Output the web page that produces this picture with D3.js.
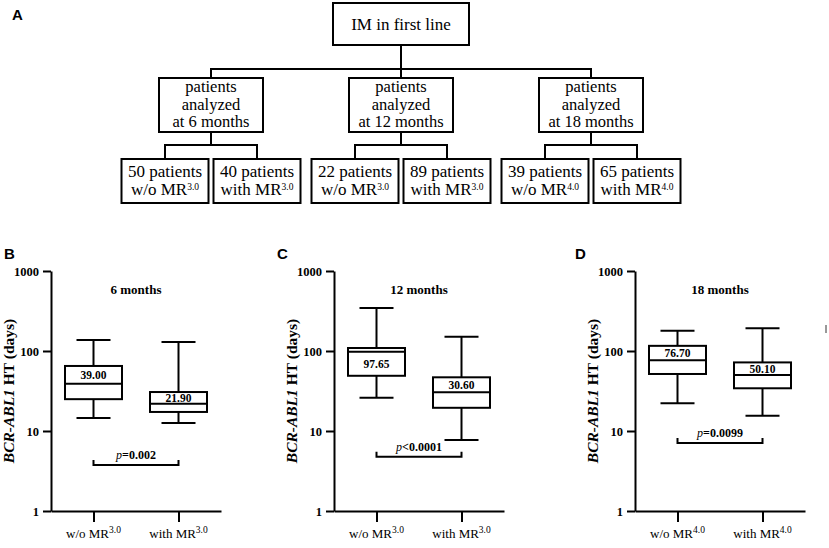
<!DOCTYPE html>
<html><head><meta charset="utf-8">
<script src="https://cdn.jsdelivr.net/npm/d3@7"></script>
<style>body{margin:0;background:#fff}svg{display:block}</style>
</head><body>
<svg id="c" width="829" height="548"></svg>
<script>
// ---------------- data ----------------
const rootLabel = "IM in first line";
const timepoints = ["6 months", "12 months", "18 months"];
const childCounts = [[50, 40], [22, 89], [39, 65]];
const childPrefix = ["w/o MR", "with MR"];
const mrLevels = ["3.0", "3.0", "4.0"];
const panelLetters = ["B", "C", "D"];
const groupKeys = ["wo", "with"];
const whiskerMax = [[137, 130], [345, 151], [179, 192]];
const q3 = [[65, 30.7], [109, 46.9], [116, 72]];
const medians = [[39.00, 21.90], [97.65, 30.60], [76.70, 50.10]];
const q1 = [[25, 17.3], [49, 19.5], [51.6, 34.2]];
const whiskerMin = [[14.5, 12.6], [26, 7.7], [22.2, 15.5]];
const medianLabels = [["39.00", "21.90"], ["97.65", "30.60"], ["76.70", "50.10"]];
const pLabels = [["=", "0.002"], ["<", "0.0001"], ["=", "0.0099"]];
const bracketLevel = [3.76, 4.77, 7.1];
const yTicks = [1, 10, 100, 1000];

// ---------------- layout ----------------
const SERIF = '"Liberation Serif","Times New Roman",serif';
const SANS = '"Liberation Sans",Arial,sans-serif';
const svg = d3.select("#c");
const LW = 2;

// ----- panel A: flowchart -----
svg.append("text").attr("x", 12).attr("y", 20).attr("font-family", SANS)
  .attr("font-weight", "bold").attr("font-size", 15).text("A");

const fc = svg.append("g").attr("fill", "none").attr("stroke", "#000").attr("stroke-width", LW);
const rootBox = {x0: 333, x1: 469, y0: 3, y1: 45};
const rootCx = (rootBox.x0 + rootBox.x1) / 2;
fc.append("rect").attr("x", rootBox.x0).attr("y", rootBox.y0)
  .attr("width", rootBox.x1 - rootBox.x0).attr("height", rootBox.y1 - rootBox.y0);
svg.append("text").attr("x", rootCx).attr("y", 30).attr("text-anchor", "middle")
  .attr("font-family", SERIF).attr("font-size", 17).text(rootLabel);

const lvl2 = d3.scalePoint().domain(timepoints).range([211, 591]);
const busY1 = 69, l2y0 = 78, l2y1 = 132, busY2 = 145, l3y0 = 159, l3y1 = 203;
const l2w = 104, l3w = 87;
fc.append("line").attr("x1", rootCx).attr("x2", rootCx).attr("y1", rootBox.y1).attr("y2", busY1);
fc.append("line").attr("x1", lvl2(timepoints[0]) - 1).attr("x2", lvl2(timepoints[2]) + 1)
  .attr("y1", busY1).attr("y2", busY1);

timepoints.forEach((tp, i) => {
  const cx = lvl2(tp);
  fc.append("line").attr("x1", cx).attr("x2", cx).attr("y1", busY1).attr("y2", l2y0);
  fc.append("rect").attr("x", cx - l2w / 2).attr("y", l2y0).attr("width", l2w).attr("height", l2y1 - l2y0);
  const t = svg.append("text").attr("text-anchor", "middle").attr("font-family", SERIF).attr("font-size", 16.5);
  ["patients", "analyzed", "at " + tp].forEach((ln, k) => {
    t.append("tspan").attr("x", cx).attr("y", 92 + k * 17.5).text(ln);
  });
  fc.append("line").attr("x1", cx).attr("x2", cx).attr("y1", l2y1).attr("y2", busY2);
  const kids = [cx - 46, cx + 46];
  fc.append("line").attr("x1", kids[0] - 1).attr("x2", kids[1] + 1).attr("y1", busY2).attr("y2", busY2);
  kids.forEach((kx, j) => {
    fc.append("line").attr("x1", kx).attr("x2", kx).attr("y1", busY2).attr("y2", l3y0);
    fc.append("rect").attr("x", kx - l3w / 2).attr("y", l3y0).attr("width", l3w).attr("height", l3y1 - l3y0);
    const tt = svg.append("text").attr("text-anchor", "middle").attr("font-family", SERIF).attr("font-size", 17);
    tt.append("tspan").attr("x", kx).attr("y", 177).text(childCounts[i][j] + " patients");
    tt.append("tspan").attr("x", kx).attr("y", 195).text(childPrefix[j]);
    tt.append("tspan").attr("font-size", 9.5).attr("dy", -5.5).text(mrLevels[i]);
  });
});

// ----- panels B, C, D: box plots -----
const panelX = [51, 334, 635];
const axisW = 170, yTop = 271, yBot = 511;
const letterX = [4, 277, 575];

panelLetters.forEach((letter, p) => {
  const x0 = panelX[p];
  const g = svg.append("g");
  const y = d3.scaleLog().domain([1, 1000]).range([yBot, yTop]);
  const x = d3.scalePoint().domain(groupKeys).range([x0, x0 + axisW]).padding(0.5);

  svg.append("text").attr("x", letterX[p]).attr("y", 259).attr("font-family", SANS)
    .attr("font-weight", "bold").attr("font-size", 15).text(letter);

  // y axis
  const ya = g.append("g").attr("transform", `translate(${x0},0)`)
    .call(d3.axisLeft(y).tickValues(yTicks).tickFormat(d3.format("d")).tickSize(8).tickSizeOuter(0).tickPadding(4));
  ya.select(".domain").attr("stroke-width", LW);
  ya.selectAll(".tick line").attr("stroke-width", LW);
  ya.selectAll(".tick text").attr("font-family", SERIF).attr("font-weight", "bold")
    .attr("font-size", 12.5).attr("fill", "#000");

  // x axis
  const xa = g.append("g").attr("transform", `translate(0,${yBot})`)
    .call(d3.axisBottom(x).tickSize(11).tickSizeOuter(0).tickFormat(""));
  xa.select(".domain").attr("stroke-width", LW);
  xa.selectAll(".tick line").attr("stroke-width", LW);

  // y label
  const yl = svg.append("text").attr("transform", `translate(${x0 - 37},${(yTop + yBot) / 2}) rotate(-90)`)
    .attr("text-anchor", "middle").attr("font-family", SERIF).attr("font-weight", "bold").attr("font-size", 15.5);
  yl.append("tspan").attr("font-style", "italic").text("BCR-ABL1");
  yl.append("tspan").text(" HT (days)");

  // title
  svg.append("text").attr("x", (x(groupKeys[0]) + x(groupKeys[1])) / 2).attr("y", 294)
    .attr("text-anchor", "middle").attr("font-family", SERIF).attr("font-weight", "bold")
    .attr("font-size", 13).text(timepoints[p]);

  // boxes
  const bw = 57, cw = 34;
  groupKeys.forEach((k, j) => {
    const cx = x(k);
    const bg = g.append("g").attr("stroke", "#000").attr("stroke-width", LW).attr("fill", "none");
    bg.append("line").attr("x1", cx).attr("x2", cx).attr("y1", y(whiskerMax[p][j])).attr("y2", y(q3[p][j]));
    bg.append("line").attr("x1", cx).attr("x2", cx).attr("y1", y(q1[p][j])).attr("y2", y(whiskerMin[p][j]));
    bg.append("line").attr("x1", cx - cw / 2).attr("x2", cx + cw / 2).attr("y1", y(whiskerMax[p][j])).attr("y2", y(whiskerMax[p][j]));
    bg.append("line").attr("x1", cx - cw / 2).attr("x2", cx + cw / 2).attr("y1", y(whiskerMin[p][j])).attr("y2", y(whiskerMin[p][j]));
    bg.append("rect").attr("x", cx - bw / 2).attr("y", y(q3[p][j])).attr("width", bw)
      .attr("height", y(q1[p][j]) - y(q3[p][j])).attr("fill", "#fff");
    bg.append("line").attr("x1", cx - bw / 2).attr("x2", cx + bw / 2).attr("y1", y(medians[p][j])).attr("y2", y(medians[p][j]));
    const upper = y(medians[p][j]) - y(q3[p][j]);
    const ly = upper >= 10 ? (y(q3[p][j]) + y(medians[p][j])) / 2 : (y(medians[p][j]) + y(q1[p][j])) / 2;
    svg.append("text").attr("x", cx).attr("y", ly + 4).attr("text-anchor", "middle")
      .attr("font-family", SERIF).attr("font-weight", "bold").attr("font-size", 11.5).text(medianLabels[p][j]);

    // x label
    const xl = svg.append("text").attr("x", cx).attr("y", 538).attr("text-anchor", "middle")
      .attr("font-family", SERIF).attr("font-size", 13);
    xl.append("tspan").text(childPrefix[j]);
    xl.append("tspan").attr("font-size", 9.5).attr("dy", -5).text(mrLevels[p]);
  });

  // significance bracket
  const by = y(bracketLevel[p]);
  const bx1 = x(groupKeys[0]), bx2 = x(groupKeys[1]);
  g.append("path").attr("d", `M${bx1},${by - 5}V${by}H${bx2}V${by - 5}`)
    .attr("fill", "none").attr("stroke", "#000").attr("stroke-width", LW);
  const pt = svg.append("text").attr("x", (bx1 + bx2) / 2).attr("y", by - 6).attr("text-anchor", "middle")
    .attr("font-family", SERIF).attr("font-weight", "bold").attr("font-size", 12);
  pt.append("tspan").attr("font-style", "italic").attr("font-weight", "normal").text("p");
  pt.append("tspan").text(pLabels[p][0] + pLabels[p][1]);
});

// small stray mark at right edge of the original figure
svg.append("line").attr("x1", 826).attr("x2", 826).attr("y1", 325).attr("y2", 333)
  .attr("stroke", "#333").attr("stroke-width", 1);
</script>
</body></html>
